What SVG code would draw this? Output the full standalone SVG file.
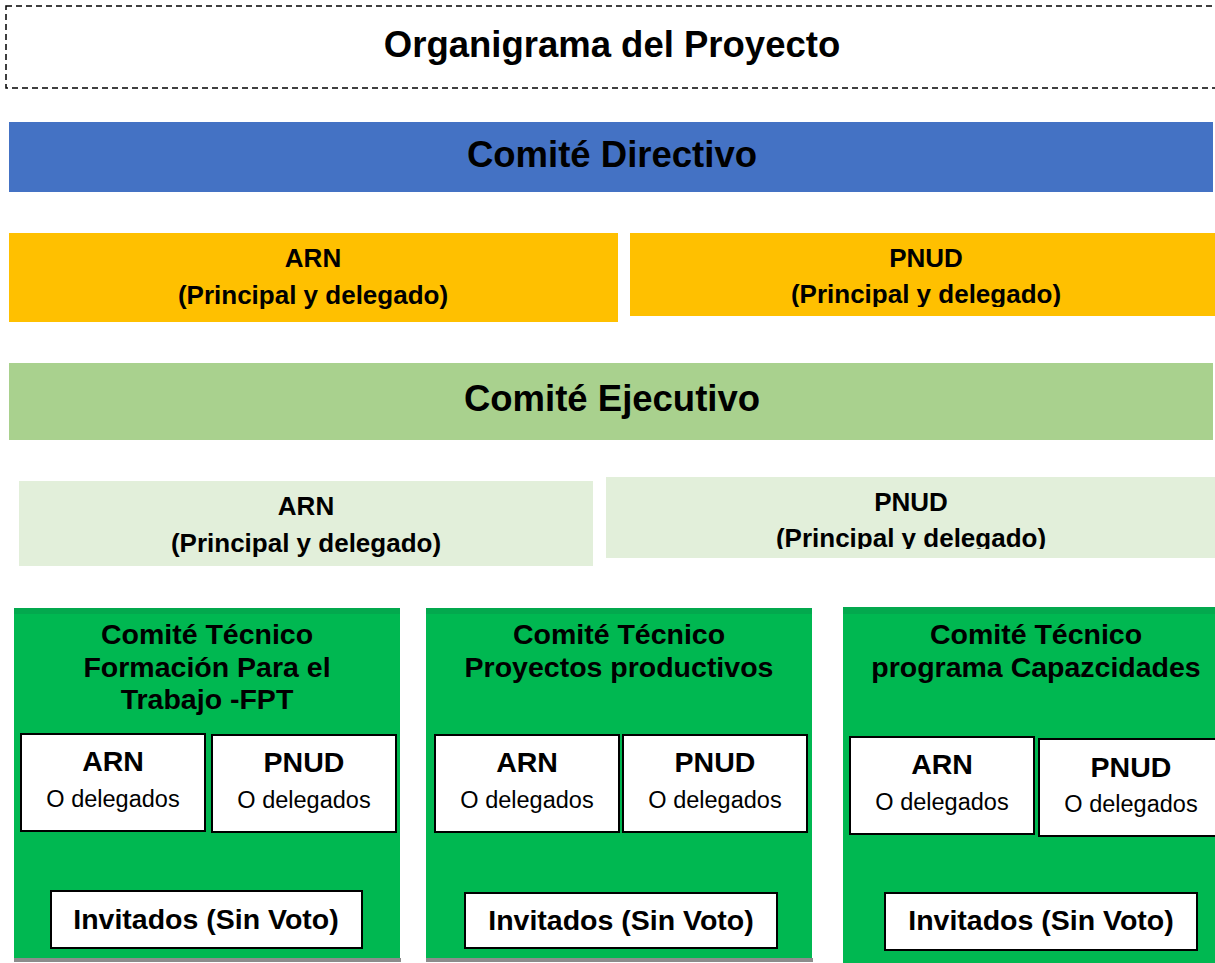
<svg xmlns="http://www.w3.org/2000/svg" width="1215" height="963" viewBox="0 0 1215 963">
<style>
text{font-family:"Liberation Sans",Arial,sans-serif;fill:#000;text-anchor:middle}
.h1{font-size:36.5px;font-weight:bold}
.h2{font-size:26px;font-weight:bold}
.h3{font-size:28.5px;font-weight:bold}
.r{font-size:23.5px}
.wb{fill:#fff;stroke:#000;stroke-width:2}
.tc{fill:#00B851}
.top{fill:#03A94E}
.sh{fill:#8c8c8c}
</style>
<defs>
<clipPath id="cY"><rect x="630" y="233" width="585" height="74"/></clipPath>
<clipPath id="cL"><rect x="606" y="477" width="609" height="72"/></clipPath>
</defs>
<g id="connectors"></g>
<g id="title">
<rect x="6" y="6" width="1215" height="82" fill="#fff" stroke="#000" stroke-width="1.5" stroke-dasharray="6,4"/>
<text x="612" y="57" class="h1">Organigrama del Proyecto</text>
</g>
<g id="comite-directivo">
<rect x="9" y="122" width="1204" height="70" fill="#4472C4"/>
<text x="612" y="167" class="h1">Comité Directivo</text>
</g>
<g id="cd-arn">
<rect x="9" y="233" width="609" height="89" fill="#FFC000"/>
<text x="313" y="267" class="h2">ARN</text>
<text x="313" y="304" class="h2">(Principal y delegado)</text>
</g>
<g id="cd-pnud">
<rect x="630" y="233" width="585" height="83" fill="#FFC000"/>
<g clip-path="url(#cY)">
<text x="926" y="267" class="h2">PNUD</text>
<text x="926" y="303" class="h2">(Principal y delegado)</text>
</g>
</g>
<g id="comite-ejecutivo">
<rect x="9" y="363" width="1204" height="77" fill="#A9D18E"/>
<text x="612" y="411" class="h1">Comité Ejecutivo</text>
</g>
<g id="ce-arn">
<rect x="19" y="481" width="574" height="85" fill="#E2EFDA"/>
<text x="306" y="515" class="h2">ARN</text>
<text x="306" y="552" class="h2">(Principal y delegado)</text>
</g>
<g id="ce-pnud">
<rect x="606" y="477" width="609" height="81" fill="#E2EFDA"/>
<g clip-path="url(#cL)">
<text x="911" y="511" class="h2">PNUD</text>
<text x="911" y="547" class="h2">(Principal y delegado)</text>
</g>
</g>
<g id="ct-fpt">
<rect x="14" y="958" width="387" height="4" class="sh"/>
<rect x="14" y="608" width="386" height="350" class="tc"/>
<rect x="14" y="608" width="386" height="6" class="top"/>
<text x="207" y="644" class="h3">Comité Técnico</text>
<text x="207" y="677" class="h3">Formación Para el</text>
<text x="207" y="709" class="h3">Trabajo -FPT</text>
<rect x="21" y="734" width="184" height="97" class="wb"/>
<text x="113" y="771" class="h3">ARN</text>
<text x="113" y="807" class="r">O delegados</text>
<rect x="212" y="735" width="184" height="97" class="wb"/>
<text x="304" y="772" class="h3">PNUD</text>
<text x="304" y="808" class="r">O delegados</text>
<rect x="51" y="891" width="311" height="57" class="wb"/>
<text x="206" y="929" class="h3">Invitados (Sin Voto)</text>
</g>
<g id="ct-proyectos">
<rect x="426" y="958" width="387" height="4" class="sh"/>
<rect x="426" y="608" width="386" height="350" class="tc"/>
<rect x="426" y="608" width="386" height="6" class="top"/>
<text x="619" y="644" class="h3">Comité Técnico</text>
<text x="619" y="677" class="h3">Proyectos productivos</text>
<rect x="435" y="735" width="184" height="97" class="wb"/>
<text x="527" y="772" class="h3">ARN</text>
<text x="527" y="808" class="r">O delegados</text>
<rect x="623" y="735" width="184" height="97" class="wb"/>
<text x="715" y="772" class="h3">PNUD</text>
<text x="715" y="808" class="r">O delegados</text>
<rect x="465" y="893" width="312" height="55" class="wb"/>
<text x="621" y="930" class="h3">Invitados (Sin Voto)</text>
</g>
<g id="ct-capacidades">
<rect x="843" y="607" width="380" height="356" class="tc"/>
<rect x="843" y="607" width="380" height="7" class="top"/>
<text x="1036" y="644" class="h3">Comité Técnico</text>
<text x="1036" y="677" class="h3">programa Capazcidades</text>
<rect x="850" y="737" width="184" height="97" class="wb"/>
<text x="942" y="774" class="h3">ARN</text>
<text x="942" y="810" class="r">O delegados</text>
<rect x="1039" y="739" width="186" height="97" class="wb"/>
<text x="1131" y="777" class="h3">PNUD</text>
<text x="1131" y="812" class="r">O delegados</text>
<rect x="885" y="893" width="312" height="57" class="wb"/>
<text x="1041" y="930" class="h3">Invitados (Sin Voto)</text>
</g>
</svg>
